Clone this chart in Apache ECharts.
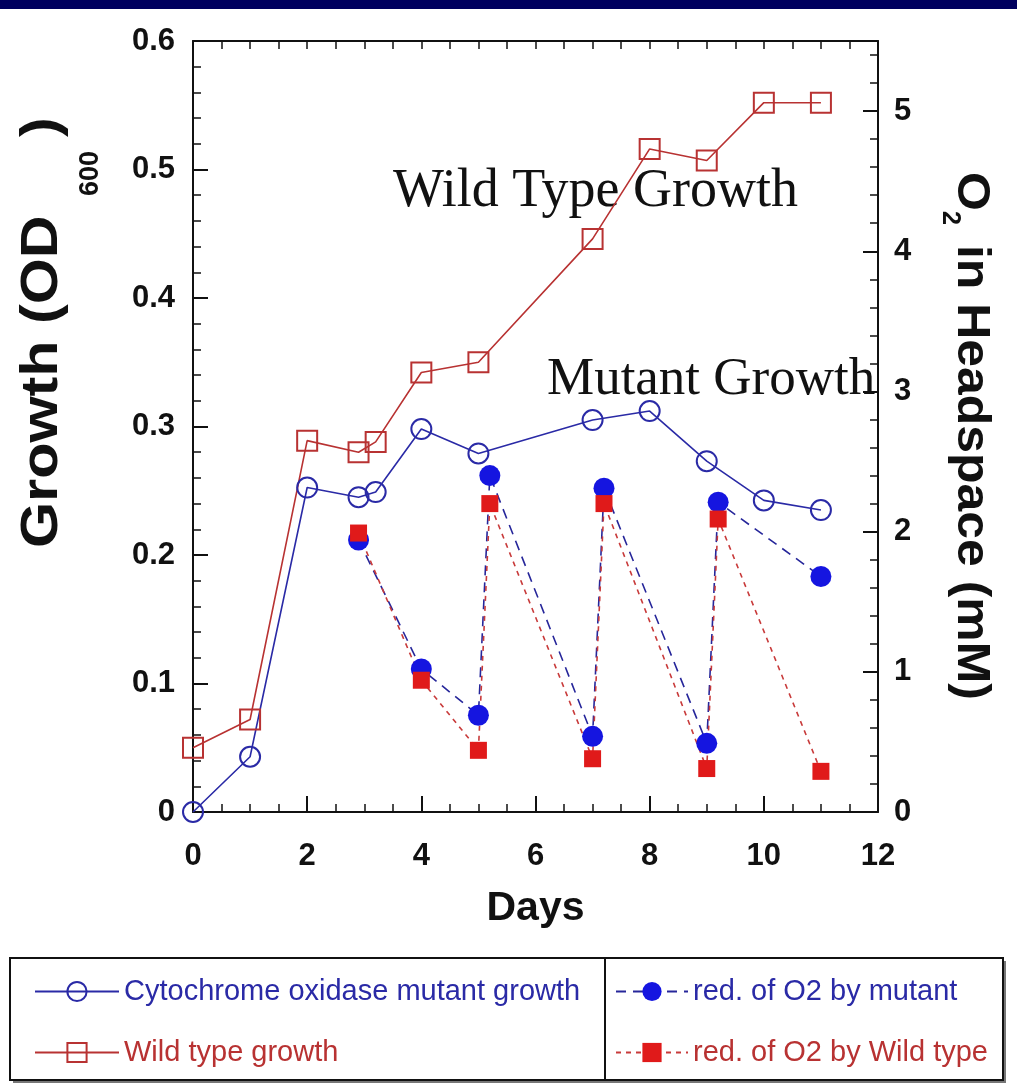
<!DOCTYPE html>
<html><head><meta charset="utf-8">
<script src="https://cdn.jsdelivr.net/npm/echarts@6/dist/echarts.min.js"></script>
<style>html,body{margin:0;padding:0;background:#fff}#c{width:1017px;height:1085px}</style>
</head><body><div id="c"></div>
<script>
// ---- data ----
const growthDays   = [0, 1, 2, 2.9, 3.2, 4, 5, 7, 8, 9, 10, 11];
const mutantGrowth = [0, 0.043, 0.2525, 0.245, 0.249, 0.298, 0.279, 0.305, 0.312, 0.273, 0.2425, 0.235];
const wildGrowth   = [0.05, 0.072, 0.289, 0.280, 0.288, 0.342, 0.350, 0.446, 0.516, 0.507, 0.552, 0.552];
const o2Days   = [2.9, 4, 5, 5.2, 7, 7.2, 9, 9.2, 11];
const mutantO2 = [1.94, 1.02, 0.69, 2.40, 0.54, 2.31, 0.49, 2.21, 1.68];
const wildO2   = [1.99, 0.94, 0.44, 2.20, 0.38, 2.20, 0.31, 2.09, 0.29];
const seriesNames = ['Cytochrome oxidase mutant growth', 'Wild type growth', 'red. of O2 by mutant', 'red. of O2 by Wild type'];

const pair = (xs, ys) => xs.map((x, i) => [x, ys[i]]);
const BLUE = '#2a2aa6', RED = '#b83232', FBLUE = '#1515e0', FRED = '#e01a1a';
const axisFont = {fontFamily: 'Liberation Sans', fontWeight: 'bold', fontSize: 31, color: '#111'};
const AX = {onZero: false, lineStyle: {color: '#111', width: 2}};
const BOLD = s => 'bold ' + s + 'px "Liberation Sans"';

const chart = echarts.init(document.getElementById('c'), null, {renderer: 'canvas'});
chart.setOption({
  animation: false,
  backgroundColor: '#fff',
  grid: {left: 193, right: 139, top: 41, bottom: 273},
  xAxis: [
    {type: 'value', min: 0, max: 12, interval: 2, position: 'bottom',
     axisLine: AX, splitLine: {show: false},
     axisTick: {inside: true, length: 16, lineStyle: {color: '#111', width: 2}},
     minorTick: {show: true, splitNumber: 4, length: 8, lineStyle: {color: '#111', width: 1.5}},
     axisLabel: Object.assign({margin: 29}, axisFont),
     name: 'Days', nameLocation: 'middle', nameGap: 76,
     nameTextStyle: {fontFamily: 'Liberation Sans', fontWeight: 'bold', fontSize: 41, color: '#111'}},
    {type: 'value', min: 0, max: 12, interval: 2, position: 'top',
     axisLine: AX, splitLine: {show: false},
     axisTick: {inside: true, length: 8, lineStyle: {color: '#111', width: 1.5}},
     minorTick: {show: true, splitNumber: 4, length: 8, lineStyle: {color: '#111', width: 1.5}},
     axisLabel: {show: false}}
  ],
  yAxis: [
    {type: 'value', min: 0, max: 0.6, interval: 0.1, position: 'left',
     axisLine: AX, splitLine: {show: false},
     axisTick: {inside: true, length: 15, lineStyle: {color: '#111', width: 2}},
     minorTick: {show: true, splitNumber: 5, length: 8, lineStyle: {color: '#111', width: 1.5}},
     axisLabel: Object.assign({margin: 18}, axisFont)},
    {type: 'value', min: 0, max: 5.5, interval: 1, position: 'right',
     axisLine: AX, splitLine: {show: false},
     axisTick: {inside: true, length: 15, lineStyle: {color: '#111', width: 2}},
     axisLabel: Object.assign({margin: 16, showMaxLabel: false,
       formatter: v => (Math.abs(v - Math.round(v)) < 1e-6 ? String(Math.round(v)) : '')}, axisFont)},
    {type: 'value', min: 0, max: 5.5, interval: 0.2, position: 'right',
     axisLine: {show: false, onZero: false}, splitLine: {show: false},
     axisTick: {inside: true, length: 8, lineStyle: {color: '#111', width: 1.5}},
     axisLabel: {show: false}}
  ],
  legend: [
    {orient: 'vertical', left: 29, top: 972, itemWidth: 84, itemHeight: 24, itemGap: 32,
     textStyle: {fontFamily: 'Liberation Sans', fontSize: 29},
     data: [{name: seriesNames[0], textStyle: {color: BLUE}}, {name: seriesNames[1], textStyle: {color: RED}}]},
    {orient: 'vertical', left: 610, top: 972, itemWidth: 72, itemHeight: 24, itemGap: 32,
     textStyle: {fontFamily: 'Liberation Sans', fontSize: 29},
     data: [{name: seriesNames[2], textStyle: {color: BLUE}}, {name: seriesNames[3], textStyle: {color: RED}}]}
  ],
  series: [
    {name: seriesNames[0], type: 'line', xAxisIndex: 0, yAxisIndex: 0, data: pair(growthDays, mutantGrowth),
     symbol: 'circle', symbolSize: 20,
     itemStyle: {color: 'rgba(0,0,0,0)', borderColor: BLUE, borderWidth: 2},
     lineStyle: {color: BLUE, width: 1.6}},
    {name: seriesNames[1], type: 'line', xAxisIndex: 0, yAxisIndex: 0, data: pair(growthDays, wildGrowth),
     symbol: 'rect', symbolSize: 20,
     itemStyle: {color: 'rgba(0,0,0,0)', borderColor: RED, borderWidth: 2},
     lineStyle: {color: RED, width: 1.6}},
    {name: seriesNames[2], type: 'line', xAxisIndex: 0, yAxisIndex: 1, data: pair(o2Days, mutantO2),
     symbol: 'circle', symbolSize: 21,
     itemStyle: {color: FBLUE},
     lineStyle: {color: '#26269a', width: 1.6, type: [10, 7]}},
    {name: seriesNames[3], type: 'line', xAxisIndex: 0, yAxisIndex: 1, data: pair(o2Days, wildO2),
     symbol: 'rect', symbolSize: 17,
     itemStyle: {color: FRED},
     lineStyle: {color: '#c83a3a', width: 1.6, type: [5, 5]}}
  ],
  graphic: [
    {type: 'rect', shape: {x: 0, y: 0, width: 1017, height: 9}, style: {fill: '#00005e'}, silent: true},
    {type: 'rect', z: -2, shape: {x: 13, y: 961, width: 993, height: 122}, style: {fill: '#777'}},
    {type: 'rect', z: -1, shape: {x: 10, y: 958, width: 993, height: 122},
     style: {fill: '#fff', stroke: '#111', lineWidth: 2}},
    {type: 'line', shape: {x1: 605, y1: 958, x2: 605, y2: 1080}, style: {stroke: '#111', lineWidth: 2}},
    {type: 'text', x: 393, y: 192, style: {text: 'Wild Type Growth', font: '54px "Liberation Serif"', fill: '#111', textAlign: 'left', textVerticalAlign: 'middle'}},
    {type: 'text', x: 547, y: 380, style: {text: 'Mutant Growth', font: '53px "Liberation Serif"', fill: '#111', textAlign: 'left', textVerticalAlign: 'middle'}},
    // left axis title: Growth (OD600)
    {type: 'text', x: 43, y: 548, rotation: Math.PI / 2, scaleX: 1.14,
     style: {text: 'Growth (OD', font: BOLD(52), fill: '#111', textAlign: 'left', textVerticalAlign: 'middle'}},
    {type: 'text', x: 91, y: 196, rotation: Math.PI / 2,
     style: {text: '600', font: BOLD(27), fill: '#111', textAlign: 'left', textVerticalAlign: 'middle'}},
    {type: 'text', x: 43, y: 137, rotation: Math.PI / 2, scaleX: 1.14,
     style: {text: ')', font: BOLD(52), fill: '#111', textAlign: 'left', textVerticalAlign: 'middle'}},
    // right axis title: O2 in Headspace (mM)
    {type: 'text', x: 971, y: 172, rotation: -Math.PI / 2, scaleX: 1.085,
     style: {text: 'O', font: BOLD(46), fill: '#111', textAlign: 'left', textVerticalAlign: 'middle'}},
    {type: 'text', x: 950, y: 211, rotation: -Math.PI / 2,
     style: {text: '2', font: BOLD(25), fill: '#111', textAlign: 'left', textVerticalAlign: 'middle'}},
    {type: 'text', x: 971, y: 245, rotation: -Math.PI / 2, scaleX: 1.085,
     style: {text: 'in Headspace (mM)', font: BOLD(46), fill: '#111', textAlign: 'left', textVerticalAlign: 'middle'}}
  ]
});
</script></body></html>
